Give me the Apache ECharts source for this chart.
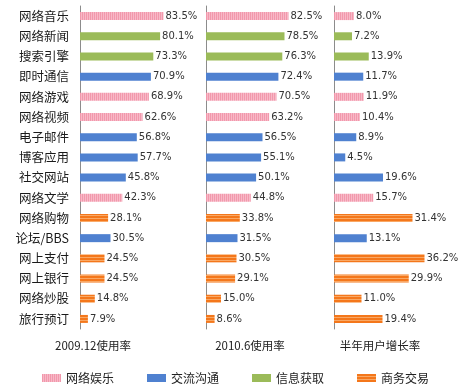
<!DOCTYPE html>
<html><head><meta charset="utf-8">
<script src="https://cdn.jsdelivr.net/npm/echarts@6/dist/echarts.min.js"></script>
<style>html,body{margin:0;padding:0;background:#fff}#c{width:470px;height:387px}</style>
</head><body><div id="c"></div>
<script>
const categories = ['网络音乐','网络新闻','搜索引擎','即时通信','网络游戏','网络视频','电子邮件','博客应用','社交网站','网络文学','网络购物','论坛/BBS','网上支付','网上银行','网络炒股','旅行预订'];
const groupOf = ['网络娱乐','信息获取','信息获取','交流沟通','网络娱乐','网络娱乐','交流沟通','交流沟通','交流沟通','网络娱乐','商务交易','交流沟通','商务交易','商务交易','商务交易','商务交易'];
const rate2009 = [83.5,80.1,73.3,70.9,68.9,62.6,56.8,57.7,45.8,42.3,28.1,30.5,24.5,24.5,14.8,7.9];
const rate2010 = [82.5,78.5,76.3,72.4,70.5,63.2,56.5,55.1,50.1,44.8,33.8,31.5,30.5,29.1,15.0,8.6];
const growth = [8.0,7.2,13.9,11.7,11.9,10.4,8.9,4.5,19.6,15.7,31.4,13.1,36.2,29.9,11.0,19.4];
const groups = ['网络娱乐','交流沟通','信息获取','商务交易'];
const panelNames = ['2009.12使用率','2010.6使用率','半年用户增长率'];

function stripe(c1, c2, vertical) {
  const cv = document.createElement('canvas');
  cv.width = vertical ? 2 : 1; cv.height = vertical ? 1 : 3;
  const ctx = cv.getContext('2d');
  ctx.fillStyle = c1; ctx.fillRect(0, 0, cv.width, cv.height);
  ctx.fillStyle = c2;
  if (vertical) ctx.fillRect(1, 0, 1, 1); else ctx.fillRect(0, 2, 1, 1);
  return {image: cv, repeat: 'repeat'};
}
const colors = {
  '网络娱乐': stripe('#F298AC', '#F7B9C7', true),
  '交流沟通': '#4F81D0',
  '信息获取': '#9BBB59',
  '商务交易': stripe('#F4771B', '#F9A865', false)
};

const panels = [rate2009, rate2010, growth];
const lefts = [80, 206, 334];
const maxes = [100, 100, 40];
const grid = [], xAxis = [], yAxis = [], series = [];
panels.forEach((vals, p) => {
  grid.push({left: lefts[p], width: 100, top: 6, bottom: 58, containLabel: false});
  xAxis.push({type: 'value', gridIndex: p, min: 0, max: maxes[p], show: false});
  yAxis.push({type: 'category', gridIndex: p, data: categories, inverse: true,
    axisLine: {show: true, lineStyle: {color: '#8c8c8c', width: 1}},
    axisTick: {show: false},
    axisLabel: {show: p === 0, fontSize: 12.5, color: '#1a1a1a', margin: 11,
      fontFamily: '"Noto Sans CJK SC", sans-serif'}});
  groups.forEach(g => {
    series.push({
      type: 'bar', name: g, xAxisIndex: p, yAxisIndex: p, stack: 'p' + p,
      barWidth: 8,
      data: vals.map((v, i) => groupOf[i] === g ? v : null),
      itemStyle: {color: colors[g]},
      label: {show: true, position: 'right', distance: 2, fontSize: 10,
        fontFamily: '"DejaVu Sans", sans-serif', color: '#333',
        formatter: d => d.value.toFixed(1) + '%'},
      animation: false
    });
  });
});

const nameX = [88, 245, 375];
const title = panelNames.map((n, i) => ({
  text: n, left: nameX[i], top: 335, textAlign: 'center',
  textStyle: {fontSize: 11.5, fontWeight: 'normal', color: '#222',
    fontFamily: '"Noto Sans CJK SC", sans-serif'}
}));

const chart = echarts.init(document.getElementById('c'));
chart.setOption({
  animation: false,
  title, grid, xAxis, yAxis, series,
  legend: {data: groups, left: 37, top: 367, itemWidth: 19, itemHeight: 8,
    itemGap: 33, icon: 'rect',
    textStyle: {fontSize: 12, color: '#222', fontFamily: '"Noto Sans CJK SC", sans-serif'}}
});
</script></body></html>
